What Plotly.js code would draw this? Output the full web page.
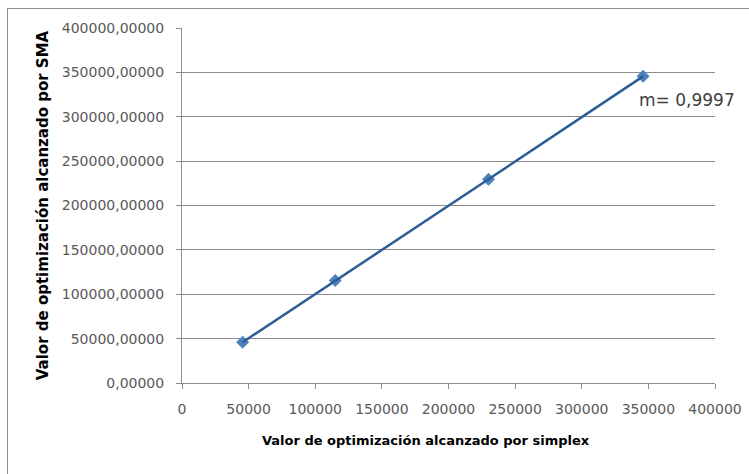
<!DOCTYPE html>
<html>
<head>
<meta charset="utf-8">
<script src="https://cdn.plot.ly/plotly-3.0.1.min.js"></script>
<style>
  html, body { margin: 0; padding: 0; background: #fff; }
  #frame { position: absolute; left: 7px; top: 8px; width: 760px; height: 480px; border: 1px solid #8c8c8c; box-sizing: border-box; }
  #chart { position: absolute; left: 0; top: 0; width: 749px; height: 474px; }
</style>
</head>
<body>
<div id="frame"></div>
<div id="chart"></div>
<script>
const simplexValues = [45500, 115000, 230000, 346000];
const smaValues = [46000, 115500, 229500, 345500];
const yTickVals = [0, 50000, 100000, 150000, 200000, 250000, 300000, 350000, 400000];
const yTickText = ["0,00000", "50000,00000", "100000,00000", "150000,00000", "200000,00000", "250000,00000", "300000,00000", "350000,00000", "400000,00000"];
const xTickVals = [0, 50000, 100000, 150000, 200000, 250000, 300000, 350000, 400000];
const xTickText = ["0", "50000", "100000", "150000", "200000", "250000", "300000", "350000", "400000"];
const xTitle = "Valor de optimización alcanzado por simplex";
const yTitle = "Valor de optimización alcanzado por SMA";
const slopeLabel = "m= 0,9997";

const tickFont = { family: "DejaVu Sans, sans-serif", size: 14, color: "#595959" };

const traces = [
  {
    x: simplexValues, y: smaValues, type: "scatter", mode: "markers",
    marker: { symbol: "diamond", size: 10, color: "#4f81bd" },
    hoverinfo: "skip", showlegend: false
  },
  {
    x: simplexValues, y: smaValues, type: "scatter", mode: "lines",
    line: { color: "#2c5d94", width: 2.5 },
    hoverinfo: "skip", showlegend: false
  }
];

const layout = {
  width: 749, height: 474,
  margin: { l: 182, r: 34, t: 28, b: 91 },
  paper_bgcolor: "rgba(0,0,0,0)",
  plot_bgcolor: "#ffffff",
  showlegend: false,
  xaxis: {
    range: [0, 400000], tickvals: xTickVals, ticktext: xTickText,
    showgrid: false, zeroline: false, showline: true, linecolor: "#8c8c8c", linewidth: 1,
    ticks: "outside", ticklen: 5, tickcolor: "#8c8c8c",
    ticklabelstandoff: 8,
    tickfont: tickFont
  },
  yaxis: {
    range: [0, 400000], tickvals: yTickVals, ticktext: yTickText,
    showgrid: true, gridcolor: "#8c8c8c", gridwidth: 1,
    zeroline: false, showline: true, linecolor: "#8c8c8c", linewidth: 1,
    ticks: "outside", ticklen: 5, tickcolor: "#8c8c8c",
    ticklabelstandoff: 9,
    tickfont: tickFont,
    title: { text: yTitle, font: { family: "DejaVu Sans, sans-serif", size: 15, color: "#000000", weight: "bold" }, standoff: 9 }
  },
  annotations: [
    {
      x: 346000, y: 345500, xref: "x", yref: "y",
      text: slopeLabel, showarrow: false,
      xanchor: "left", yanchor: "middle", xshift: -6, yshift: -24,
      font: { family: "DejaVu Sans, sans-serif", size: 17, color: "#404040" }
    },
    {
      x: 0.457, y: -0.163, xref: "paper", yref: "paper",
      text: "<b>" + xTitle + "</b>", showarrow: false,
      xanchor: "center", yanchor: "middle",
      font: { family: "DejaVu Sans, sans-serif", size: 13, color: "#000000" }
    }
  ]
};

Plotly.newPlot("chart", traces, layout, { staticPlot: true, displayModeBar: false });
</script>
</body>
</html>
